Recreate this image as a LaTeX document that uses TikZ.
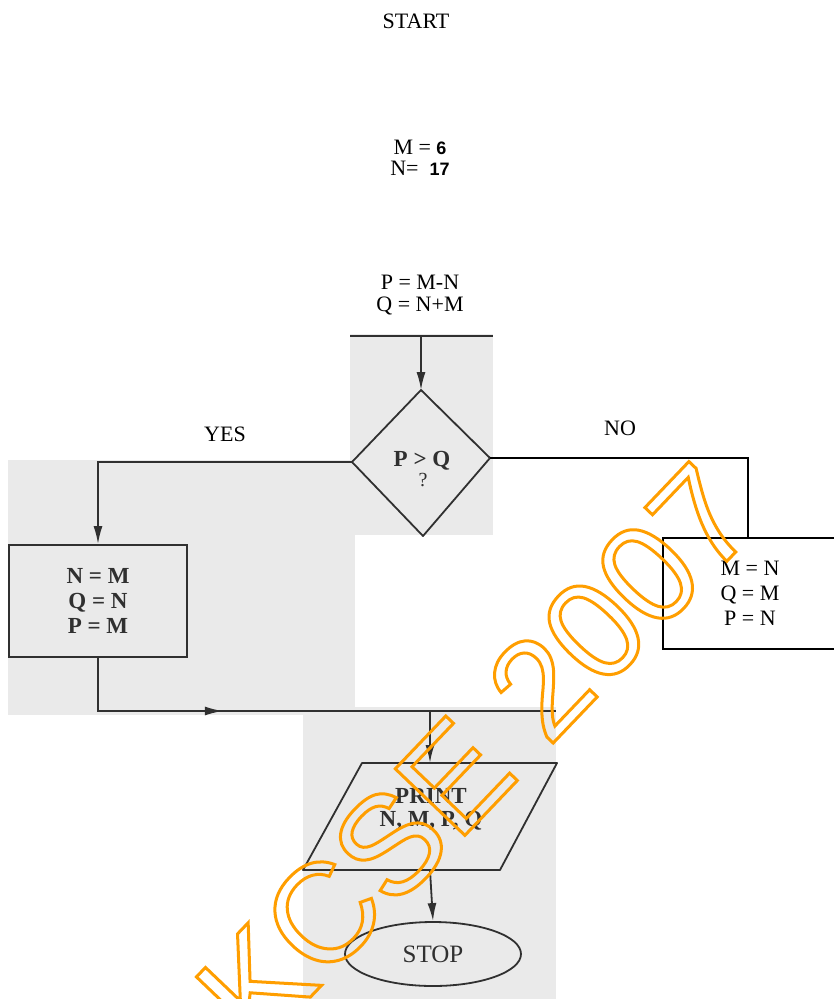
\documentclass[tikz,border=0pt]{standalone}
\usepackage{fontspec}
\setmainfont{Liberation Serif}
\newfontfamily\arialfont{Liberation Sans}
\usetikzlibrary{shapes.geometric,arrows.meta,decorations.markings}
\definecolor{scan}{RGB}{234,234,234}
\definecolor{ink}{RGB}{48,48,48}
\definecolor{wm}{RGB}{255,158,0}
\tikzset{
  typed/.style={font=\fontsize{22}{22}\selectfont, align=center, inner sep=0pt},
  scantxt/.style={font=\fontsize{23}{25}\selectfont\bfseries, text=ink, align=center, inner sep=0pt},
  tline/.style={draw=black, line width=1.1pt},
  sline/.style={draw=ink, line width=1.8pt},
  sarrow/.style={sline, -{Latex[length=18pt,width=9pt]}},
  patch/.style={fill=scan, draw=none},
}
\begin{document}
\begin{tikzpicture}[x=1pt,y=-1pt]
\useasboundingbox (0,0) rectangle (833,999);
% scanned patches
\fill[patch] (350,334) rectangle (493,535);
\fill[patch] (8,460) rectangle (355,715);
\fill[patch] (303,707) rectangle (556,999);

% typed texts
\node[typed] (start) at (416,21) {START};
\node[typed, font=\fontsize{22}{21}\selectfont] (init) at (420,158) {M = {\arialfont\bfseries\fontsize{18}{18}\selectfont 6}\\N=\ \ {\arialfont\bfseries\fontsize{18}{18}\selectfont 17}};
\node[typed, font=\fontsize{22}{22}\selectfont] (calc) at (420,295) {P = M-N\\Q = N+M};
\node[typed] (yes) at (225,434) {YES};
\node[typed] (no) at (620,428) {NO};

% scanned top line and arrow into decision
\coordinate (tl) at (350,336);
\coordinate (tr) at (493,336);
\coordinate (tm) at (421,336);
\coordinate (dtop) at (421,390);
\coordinate (dright) at (490,458);
\coordinate (dbot) at (423,536);
\coordinate (dleft) at (352,462);
\draw[sline] (tl) -- (tr);
\draw[sarrow] (tm) -- (dtop);
\draw[sline, line join=round] (dtop) -- (dright) -- (dbot) -- (dleft) -- cycle;
\node[scantxt] (cond) at (422,461) {P > Q};
\node[font=\fontsize{20}{20}\selectfont, text=ink, inner sep=0pt] (qm) at (423,480) {?};

% YES branch
\node[sline, minimum width=178pt, minimum height=112pt, inner sep=0pt,
      font=\fontsize{23}{25}\selectfont\bfseries, text=ink, align=center] (yesbox) at (98,601) {N = M\\Q = N\\P = M};
\draw[sarrow] (dleft) -| (yesbox.north);

% NO branch
\node[tline, minimum width=182pt, minimum height=111pt, inner sep=0pt,
      font=\fontsize{22}{25}\selectfont, align=center] (nobox) at (754,593.5) {\hspace*{-8pt}M = N\\\hspace*{-8pt}Q = M\\\hspace*{-8pt}P = N};
\coordinate (nocorner) at (748,458);
\draw[tline] (dright) -- (nocorner) -- (nocorner |- nobox.north);

% merge line
\coordinate (join) at (556,711);
\coordinate (split) at (430,711);
\draw[sline, postaction={decorate}, decoration={markings,
      mark=at position 178pt with {\arrow{Latex[length=18pt,width=9pt]}}}]
  (yesbox.south) |- (join);

% print
\coordinate (ptop) at (430,763);
\coordinate (pbot) at (430,870);
\draw[sline, line join=round] (362,763) -- (557,763) -- (500,870) -- (303,870) -- cycle;
\node[font=\fontsize{23}{23}\selectfont\bfseries, text=ink, align=center, inner sep=0pt] (print) at (431,809) {PRINT\\N, M, P, Q};
\draw[sarrow] (split) -- (ptop);

% stop
\node[ellipse, sline, minimum width=176pt, minimum height=64pt, inner sep=0pt,
      font=\fontsize{25}{25}\selectfont, text=ink] (stop) at (433,954) {STOP};
\draw[sarrow] (pbot) -- (stop.north);

% watermark
\node[rotate=46.3, text=wm, inner sep=0pt, font=\arialfont\fontsize{140}{140}\selectfont] (wmark) at (476,754)
  {\special{pdf:literal direct 1 Tr 3 w}KCSE 2007\special{pdf:literal direct 0 Tr 1 w}};
\end{tikzpicture}
\end{document}
